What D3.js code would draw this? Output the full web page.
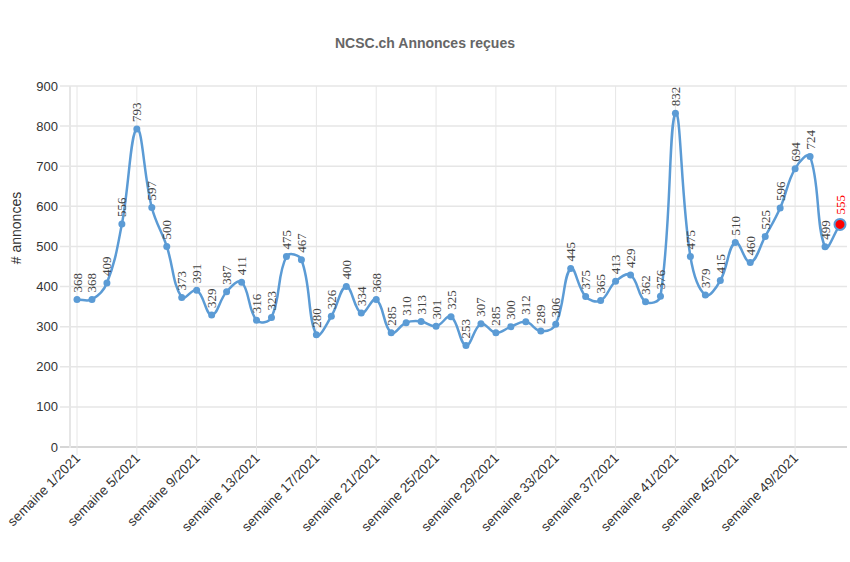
<!DOCTYPE html>
<html>
<head>
<meta charset="utf-8">
<script src="https://cdn.jsdelivr.net/npm/d3@7"></script>
<style>
  body { margin: 0; background: #fff; }
  svg { display: block; font-family: "Liberation Sans", Arial, sans-serif; }
</style>
</head>
<body>
<div id="chart"></div>
<script>
const weeks = d3.range(1, 53);
const reports = [368, 368, 409, 556, 793, 597, 500, 373, 391, 329, 387, 411, 316, 323, 475, 467,
  280, 326, 400, 334, 368, 285, 310, 313, 301, 325, 253, 307, 285, 300, 312, 289, 306, 445,
  375, 365, 413, 429, 362, 376, 832, 475, 379, 415, 510, 460, 525, 596, 694, 724, 499, 555];
const yTicks = d3.range(0, 901, 100);
const xTickWeeks = [1, 5, 9, 13, 17, 21, 25, 29, 33, 37, 41, 45, 49];

const width = 850, height = 562;
const plotLeft = 70, plotRight = 847, plotTop = 86, plotBottom = 447;

const svg = d3.select("#chart").append("svg")
  .attr("width", width)
  .attr("height", height);

const x = d3.scalePoint().domain(weeks).range([77, 840]);
const y = d3.scaleLinear().domain([0, 900]).range([plotBottom, plotTop]);

// horizontal grid
svg.append("g")
  .selectAll("line")
  .data(yTicks)
  .join("line")
  .attr("x1", plotLeft - 10)
  .attr("x2", plotRight)
  .attr("y1", d => y(d))
  .attr("y2", d => y(d))
  .attr("stroke", d => d === 0 ? "#d6d6d6" : "#e6e6e6")
  .attr("stroke-width", d => d === 0 ? 2 : 1.5);

// vertical grid
svg.append("g")
  .selectAll("line")
  .data(xTickWeeks)
  .join("line")
  .attr("x1", d => x(d))
  .attr("x2", d => x(d))
  .attr("y1", plotTop)
  .attr("y2", plotBottom + 8)
  .attr("stroke", "#e6e6e6")
  .attr("stroke-width", 1);

// y axis line
svg.append("line")
  .attr("x1", plotLeft).attr("x2", plotLeft)
  .attr("y1", plotTop).attr("y2", plotBottom + 1)
  .attr("stroke", "#e6e6e6")
  .attr("stroke-width", 2);

// y tick labels
svg.append("g")
  .selectAll("text")
  .data(yTicks)
  .join("text")
  .attr("x", plotLeft - 12)
  .attr("y", d => y(d))
  .attr("dy", "0.35em")
  .attr("text-anchor", "end")
  .attr("font-size", 13)
  .attr("fill", "#333")
  .text(d => d);

// x tick labels
svg.append("g")
  .selectAll("text")
  .data(xTickWeeks)
  .join("text")
  .attr("transform", d => `translate(${x(d) + 4},${plotBottom + 12}) rotate(-45)`)
  .attr("text-anchor", "end")
  .attr("font-size", 13.5)
  .attr("fill", "#333")
  .text(d => `semaine ${d}/2021`);

// title
svg.append("text")
  .attr("x", 425)
  .attr("y", 48)
  .attr("text-anchor", "middle")
  .attr("font-size", 14)
  .attr("font-weight", "bold")
  .attr("fill", "#666")
  .text("NCSC.ch Annonces reçues");

// y axis title
svg.append("text")
  .attr("transform", "translate(21,228) rotate(-90)")
  .attr("text-anchor", "middle")
  .attr("font-size", 14)
  .attr("fill", "#333")
  .text("# annonces");

const data = weeks.map((w, i) => ({ week: w, value: reports[i] }));
const lastWeek = weeks[weeks.length - 1];

// spline like the original tool (tension 0.4, distance weighted control points)
const pts = data.map(d => [x(d.week), y(d.value)]);
const tension = 0.4;
const ctrl = pts.map((p, i) => {
  const a = pts[Math.max(0, i - 1)], c = pts[Math.min(pts.length - 1, i + 1)];
  const d01 = Math.hypot(p[0] - a[0], p[1] - a[1]);
  const d12 = Math.hypot(c[0] - p[0], c[1] - p[1]);
  const sum = d01 + d12 || 1;
  const fa = tension * d01 / sum, fb = tension * d12 / sum;
  return {
    prev: [p[0] - fa * (c[0] - a[0]), p[1] - fa * (c[1] - a[1])],
    next: [p[0] + fb * (c[0] - a[0]), p[1] + fb * (c[1] - a[1])]
  };
});
const path = d3.path();
path.moveTo(pts[0][0], pts[0][1]);
for (let i = 1; i < pts.length; i++) {
  const c1 = ctrl[i - 1].next, c2 = ctrl[i].prev;
  path.bezierCurveTo(c1[0], c1[1], c2[0], c2[1], pts[i][0], pts[i][1]);
}

svg.append("path")
  .attr("d", path.toString())
  .attr("fill", "none")
  .attr("stroke", "#5b9bd5")
  .attr("stroke-width", 2.5);

svg.append("g")
  .selectAll("circle")
  .data(data)
  .join("circle")
  .attr("cx", d => x(d.week))
  .attr("cy", d => y(d.value))
  .attr("r", d => d.week === lastWeek ? 5.5 : 3.5)
  .attr("fill", d => d.week === lastWeek ? "#ff0000" : "#5b9bd5")
  .attr("stroke", d => d.week === lastWeek ? "#5b9bd5" : "none")
  .attr("stroke-width", 2);

// data labels
svg.append("g")
  .selectAll("text")
  .data(data)
  .join("text")
  .attr("transform", d => `translate(${x(d.week) + 4.5},${y(d.value) - (d.week === lastWeek ? 10 : 7)}) rotate(-90)`)
  .attr("font-family", "'Liberation Serif', 'Times New Roman', serif")
  .attr("font-size", 13)
  .attr("fill", d => d.week === lastWeek ? "#ff0000" : "#444")
  .text(d => d.value);
</script>
</body>
</html>
